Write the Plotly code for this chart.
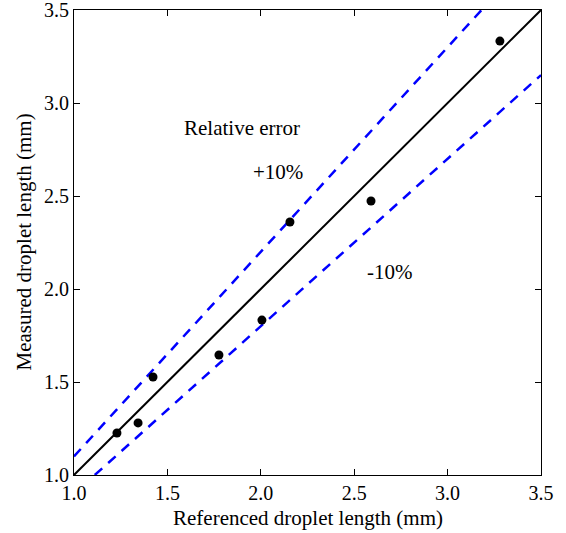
import plotly.graph_objects as go

ref_len = [1.23, 1.343, 1.423, 1.776, 2.006, 2.156, 2.59, 3.28]
meas_len = [1.226, 1.28, 1.527, 1.645, 1.833, 2.36, 2.473, 3.333]
line_x = [1.0, 3.5]
upper_x = [1.0, 3.5 / 1.1]
lower_x = [1.0 / 0.9, 3.5]
tick_vals = [1.0, 1.5, 2.0, 2.5, 3.0, 3.5]
tick_text = ["1.0", "1.5", "2.0", "2.5", "3.0", "3.5"]

font = "Liberation Serif, Times New Roman, serif"

fig = go.Figure()
fig.add_trace(go.Scatter(x=line_x, y=line_x, mode="lines",
                         line=dict(color="black", width=2), showlegend=False))
fig.add_trace(go.Scatter(x=upper_x, y=[v * 1.1 for v in upper_x], mode="lines",
                         line=dict(color="#0000ff", width=2.5, dash="10px,8px"), showlegend=False))
fig.add_trace(go.Scatter(x=lower_x, y=[v * 0.9 for v in lower_x], mode="lines",
                         line=dict(color="#0000ff", width=2.5, dash="10px,8px"), showlegend=False))
fig.add_trace(go.Scatter(x=ref_len, y=meas_len, mode="markers",
                         marker=dict(color="black", size=9), showlegend=False))

fig.add_annotation(x=1.897, y=2.865, text="Relative error", showarrow=False,
                   font=dict(family=font, size=21, color="black"))
fig.add_annotation(x=2.09, y=2.63, text="+10%", showarrow=False,
                   font=dict(family=font, size=21, color="black"))
fig.add_annotation(x=2.69, y=2.09, text="-10%", showarrow=False,
                   font=dict(family=font, size=21, color="black"))

fig.add_annotation(xref="paper", yref="paper", x=0.5, y=0, yshift=-43,
                   text="Referenced droplet length (mm)", showarrow=False,
                   yanchor="middle", font=dict(family=font, size=21, color="black"))
fig.add_annotation(xref="paper", yref="paper", x=0, y=0.5, xshift=-51,
                   text="Measured droplet length (mm)", showarrow=False, textangle=-90,
                   xanchor="center", font=dict(family=font, size=21, color="black"))

axis_common = dict(range=[1.0, 3.5], tickvals=tick_vals, ticktext=tick_text,
                   ticks="inside", ticklen=6, tickcolor="black", showline=True,
                   linecolor="black", linewidth=1, mirror="allticks",
                   showgrid=False, zeroline=False, automargin=False,
                   ticklabeloverflow="allow",
                   tickfont=dict(family=font, size=20, color="black"))

fig.update_xaxes(**axis_common)
fig.update_yaxes(**axis_common)

fig.update_layout(width=566, height=533, margin=dict(l=74, r=25, t=10, b=58),
                  plot_bgcolor="white", paper_bgcolor="white")

fig.write_html("out.html", config={"displayModeBar": False},
               post_script="document.body.style.margin='0';")
